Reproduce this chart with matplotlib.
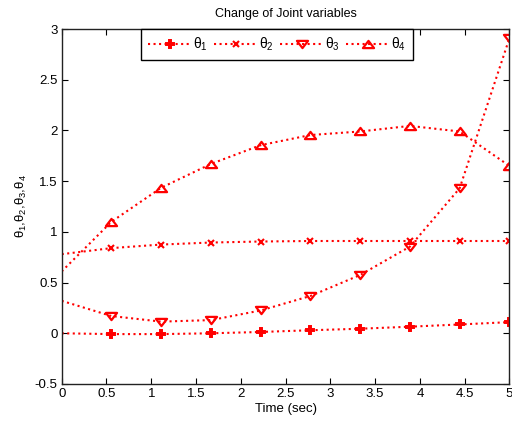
import matplotlib
matplotlib.use("Agg")
import matplotlib.pyplot as plt
from matplotlib.lines import Line2D
from matplotlib.path import Path

plt.rcParams['font.family'] = ['Liberation Sans', 'DejaVu Sans']
plt.rcParams['mathtext.fontset'] = 'custom'
plt.rcParams['mathtext.rm'] = 'Liberation Sans'
plt.rcParams['mathtext.it'] = 'Liberation Sans'
plt.rcParams['mathtext.bf'] = 'Liberation Sans:bold'

# time samples (sec)
time = [0.0, 0.556, 1.111, 1.667, 2.222, 2.778, 3.333, 3.889, 4.444, 5.0]

# joint variables
theta1 = [0.0, -0.008, -0.008, 0.0, 0.013, 0.03, 0.045, 0.065, 0.087, 0.11]
theta2 = [0.78, 0.84, 0.875, 0.895, 0.905, 0.91, 0.91, 0.91, 0.91, 0.91]
theta3 = [0.32, 0.17, 0.115, 0.13, 0.225, 0.368, 0.575, 0.855, 1.43, 2.91]
theta4 = [0.61, 1.10, 1.435, 1.67, 1.855, 1.955, 1.99, 2.045, 1.99, 1.65]

series = [theta1, theta2, theta3, theta4]
labels = [r'$\theta_1$', r'$\theta_2$', r'$\theta_3$', r'$\theta_4$']

# flattened triangle markers
tri_up = Path([(-1, -0.65), (1, -0.65), (0, 0.65), (-1, -0.65)],
              [Path.MOVETO, Path.LINETO, Path.LINETO, Path.CLOSEPOLY])
tri_down = Path([(-1, 0.65), (1, 0.65), (0, -0.65), (-1, 0.65)],
                [Path.MOVETO, Path.LINETO, Path.LINETO, Path.CLOSEPOLY])

markers = ['P', 'x', tri_down, tri_up]
msizes = [5.2, 3.8, 8.0, 8.0]
mfaces = ['red', 'red', 'none', 'none']
mwidths = [1.4, 1.5, 1.6, 1.6]

xticks = [0, 0.5, 1, 1.5, 2, 2.5, 3, 3.5, 4, 4.5, 5]
xticklabels = ['0', '0.5', '1', '1.5', '2', '2.5', '3', '3.5', '4', '4.5', '5']
yticks = [-0.5, 0, 0.5, 1, 1.5, 2, 2.5, 3]
yticklabels = ['-0.5', '0', '0.5', '1', '1.5', '2', '2.5', '3']

fig = plt.figure(figsize=(5.12, 4.21), dpi=100)
ax = fig.add_axes([0.1205, 0.0879, 0.8745, 0.8431])

red = (1, 0, 0)
handles = []
for y, lab, m, ms, mf, mw in zip(series, labels, markers, msizes, mfaces, mwidths):
    ax.plot(time, y, ls=':', lw=1.5, color=red)
    ax.plot(time[1:], y[1:], ls='none', marker=m, ms=ms, mew=mw,
            mfc=mf, mec=red)
    handles.append(Line2D([], [], ls=':', lw=1.5, color=red, marker=m,
                          ms=ms, mew=mw, mfc=mf, mec=red, label=lab))

ax.set_xlim(0, 5)
ax.set_ylim(-0.5, 3)
ax.set_xticks(xticks)
ax.set_xticklabels(xticklabels)
ax.set_yticks(yticks)
ax.set_yticklabels(yticklabels)
ax.tick_params(direction='in', length=4, width=0.8, labelsize=9.5,
               top=True, right=True, pad=3, colors='black')
for s in ax.spines.values():
    s.set_linewidth(1.0)
    s.set_color('#222222')

ax.set_title('Change of Joint variables', fontsize=9, pad=9)
ax.set_xlabel('Time (sec)', fontsize=9.5, labelpad=2)
ax.set_ylabel(r'$\theta_1$,$\theta_2$,$\theta_3$,$\theta_4$', fontsize=9.5,
              labelpad=4)

leg = ax.legend(handles=handles, loc='upper center', ncol=4,
                bbox_to_anchor=(277 / 512, 1 - 29 / 421),
                bbox_transform=fig.transFigure, borderaxespad=0,
                fancybox=False, framealpha=1, edgecolor='black',
                handlelength=3.1, handletextpad=0.15, columnspacing=0.45,
                borderpad=0.5, fontsize=10, numpoints=1)
leg.get_frame().set_linewidth(1.0)

fig.savefig('out.png', dpi=100)
